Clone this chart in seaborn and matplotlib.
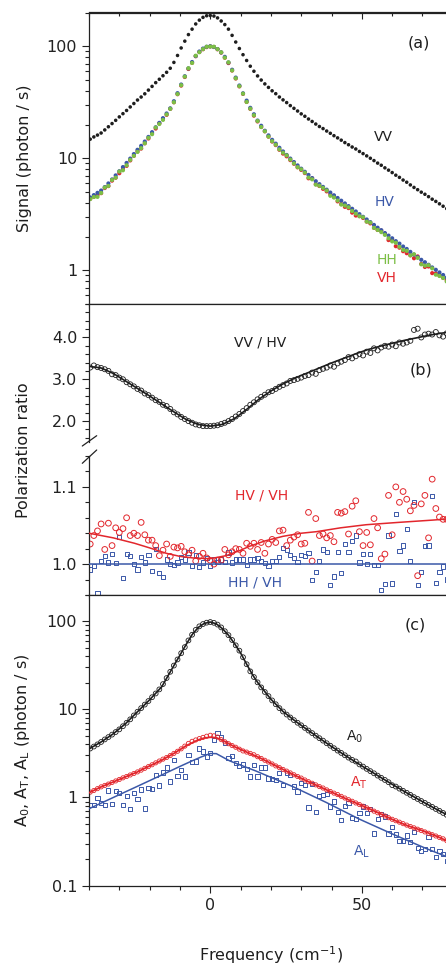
import numpy as np
import pandas as pd
import matplotlib
matplotlib.use('Agg')
from matplotlib import pyplot as plt
from matplotlib import ticker
from matplotlib.lines import Line2D
import seaborn as sns

# Frequency grid shared by every measured series (cm^-1)
freq = [-39.6, -38.4, -37.2, -36.0, -34.8, -33.6, -32.4, -31.2, -30.0, -28.8,
        -27.6, -26.4, -25.2, -24.0, -22.8, -21.6, -20.4, -19.2, -18.0, -16.8,
        -15.6, -14.4, -13.2, -12.0, -10.8, -9.6, -8.4, -7.2, -6.0, -4.8,
        -3.6, -2.4, -1.2, 0.0, 1.2, 2.4, 3.6, 4.8, 6.0, 7.2,
        8.4, 9.6, 10.8, 12.0, 13.2, 14.4, 15.6, 16.8, 18.0, 19.2,
        20.4, 21.6, 22.8, 24.0, 25.2, 26.4, 27.6, 28.8, 30.0, 31.2,
        32.4, 33.6, 34.8, 36.0, 37.2, 38.4, 39.6, 40.8, 42.0, 43.2,
        44.4, 45.6, 46.8, 48.0, 49.2, 50.4, 51.6, 52.8, 54.0, 55.2,
        56.4, 57.6, 58.8, 60.0, 61.2, 62.4, 63.6, 64.8, 66.0, 67.2,
        68.4, 69.6, 70.8, 72.0, 73.2, 74.4, 75.6, 76.8, 78.0]

# Panel (a): signals (photon / s)
vv = [14.8, 15.5, 16.1, 16.8, 17.9, 19.1, 20.4, 21.8, 23.4, 25.0,
      26.7, 28.7, 30.8, 33.1, 35.2, 37.6, 40.6, 43.8, 47.3, 50.7,
      54.5, 58.5, 63.6, 71.7, 82.7, 96.5, 111, 127, 142, 158,
      171, 181, 187, 188, 186, 179, 168, 156, 142, 125,
      109, 95.4, 84.0, 74.6, 66.3, 59.8, 54.3, 49.9, 46.1, 42.9,
      40.0, 37.7, 35.2, 33.2, 31.4, 29.5, 27.9, 26.4, 24.9, 23.7,
      22.4, 21.3, 20.2, 19.2, 18.4, 17.5, 16.7, 15.9, 15.2, 14.5,
      13.8, 13.2, 12.6, 12.1, 11.5, 11.0, 10.5, 10.0, 9.53, 9.05,
      8.66, 8.21, 7.83, 7.45, 7.06, 6.75, 6.39, 6.11, 5.78, 5.49,
      5.24, 4.98, 4.77, 4.54, 4.31, 4.12, 3.92, 3.73, 3.55]
hv = [4.47, 4.69, 4.91, 5.15, 5.53, 5.96, 6.47, 7.03, 7.66, 8.34,
      9.08, 9.93, 10.9, 11.9, 12.9, 14.1, 15.5, 17.1, 18.9, 20.7,
      22.8, 25.1, 27.9, 32.3, 38.1, 45.5, 54.0, 63.4, 72.3, 81.7,
      89.7, 95.3, 98.9, 100, 98.4, 94.4, 88.1, 80.4, 71.6, 61.7,
      52.5, 44.6, 38.0, 32.7, 28.2, 24.7, 21.7, 19.5, 17.6, 16.0,
      14.6, 13.5, 12.4, 11.5, 10.7, 9.93, 9.25, 8.63, 8.07, 7.57,
      7.10, 6.65, 6.24, 5.87, 5.55, 5.24, 4.94, 4.67, 4.42, 4.18,
      3.95, 3.74, 3.54, 3.35, 3.17, 3.00, 2.84, 2.69, 2.54, 2.40,
      2.28, 2.15, 2.04, 1.93, 1.82, 1.73, 1.63, 1.55, 1.46, 1.38,
      1.31, 1.24, 1.18, 1.12, 1.06, 1.01, 0.957, 0.908, 0.861]
vh = [4.35, 4.52, 4.70, 4.88, 5.42, 5.64, 6.31, 6.70, 7.35, 7.96,
      8.54, 9.56, 10.5, 11.5, 12.2, 13.6, 15.0, 16.6, 18.4, 20.5,
      22.4, 24.4, 27.6, 31.6, 37.3, 44.5, 53.1, 62.6, 71.0, 81.4,
      88.8, 94.0, 98.1, 99.5, 98.4, 93.9, 87.7, 78.9, 70.7, 60.7,
      51.5, 43.8, 37.5, 31.8, 27.6, 24.0, 21.3, 19.0, 17.4, 15.6,
      14.1, 13.1, 11.9, 11.0, 10.4, 9.62, 8.93, 8.30, 7.86, 7.37,
      6.62, 6.62, 5.87, 5.65, 5.33, 5.06, 4.76, 4.53, 4.12, 3.90,
      3.68, 3.59, 3.27, 3.08, 3.04, 2.93, 2.72, 2.62, 2.39, 2.29,
      2.26, 2.12, 1.86, 1.86, 1.64, 1.59, 1.48, 1.42, 1.36, 1.28,
      1.33, 1.14, 1.07, 1.08, 0.943, 0.937, 0.899, 0.855, 0.811]
hh = [4.32, 4.51, 4.52, 4.90, 5.48, 5.66, 6.40, 6.71, 7.61, 7.81,
      8.65, 9.67, 10.5, 11.4, 12.3, 13.6, 15.2, 16.4, 18.8, 20.2,
      22.0, 24.6, 27.6, 31.6, 37.4, 44.9, 53.5, 63.6, 70.9, 82.3,
      88.4, 94.2, 98.9, 99.3, 99.0, 94.2, 88.2, 79.1, 71.8, 60.8,
      51.8, 44.0, 37.7, 31.8, 27.7, 24.2, 21.5, 19.0, 17.4, 15.6,
      14.2, 13.2, 12.0, 11.2, 10.6, 9.74, 9.00, 8.33, 7.96, 7.44,
      6.72, 6.48, 5.81, 5.68, 5.44, 5.15, 4.62, 4.46, 4.19, 3.86,
      3.78, 3.65, 3.38, 3.20, 3.04, 2.97, 2.72, 2.66, 2.39, 2.29,
      2.19, 2.07, 1.93, 1.81, 1.76, 1.62, 1.52, 1.49, 1.36, 1.39,
      1.29, 1.13, 1.10, 1.11, 1.04, 0.913, 0.889, 0.853, 0.794]

# Panel (b): polarization ratios
vv_hv = [3.28, 3.33, 3.29, 3.27, 3.24, 3.20, 3.12, 3.10, 3.04, 3.00,
         2.93, 2.88, 2.83, 2.77, 2.73, 2.66, 2.62, 2.56, 2.50, 2.46,
         2.39, 2.36, 2.29, 2.21, 2.16, 2.10, 2.05, 2.00, 1.96, 1.92,
         1.90, 1.88, 1.88, 1.88, 1.89, 1.90, 1.93, 1.96, 2.00, 2.05,
         2.11, 2.17, 2.24, 2.31, 2.39, 2.45, 2.52, 2.58, 2.63, 2.69,
         2.72, 2.77, 2.82, 2.86, 2.90, 2.96, 2.98, 3.01, 3.04, 3.08,
         3.10, 3.16, 3.13, 3.22, 3.25, 3.28, 3.33, 3.30, 3.38, 3.42,
         3.46, 3.53, 3.50, 3.55, 3.60, 3.57, 3.66, 3.63, 3.74, 3.69,
         3.76, 3.80, 3.78, 3.83, 3.79, 3.88, 3.85, 3.88, 3.92, 4.18,
         4.21, 4.00, 4.07, 4.09, 4.07, 4.13, 4.05, 4.02, 4.10]
hv_vh = [1.026, 1.037, 1.043, 1.052, 1.019, 1.053, 1.024, 1.047, 1.041, 1.046,
         1.060, 1.037, 1.040, 1.037, 1.054, 1.038, 1.031, 1.031, 1.024, 1.011,
         1.018, 1.026, 1.010, 1.022, 1.021, 1.023, 1.016, 1.012, 1.018, 1.004,
         1.010, 1.014, 1.008, 1.005, 1.000, 1.005, 1.005, 1.019, 1.012, 1.016,
         1.020, 1.019, 1.014, 1.027, 1.023, 1.027, 1.019, 1.028, 1.014, 1.026,
         1.032, 1.028, 1.043, 1.044, 1.024, 1.031, 1.035, 1.038, 1.026, 1.027,
         1.067, 1.004, 1.059, 1.037, 1.039, 1.034, 1.037, 1.029, 1.067, 1.066,
         1.068, 1.039, 1.075, 1.082, 1.042, 1.024, 1.041, 1.025, 1.059, 1.047,
         1.007, 1.013, 1.089, 1.038, 1.100, 1.080, 1.094, 1.084, 1.069, 1.076,
         0.985, 1.078, 1.089, 1.034, 1.110, 1.072, 1.061, 1.058, 1.058]
hh_vh = [0.993, 0.998, 0.963, 1.004, 1.011, 1.002, 1.013, 1.001, 1.035, 0.982,
         1.013, 1.011, 1.000, 0.993, 1.009, 1.002, 1.012, 0.991, 1.020, 0.988,
         0.983, 1.006, 1.000, 0.999, 1.002, 1.009, 1.006, 1.015, 0.998, 1.012,
         0.996, 1.002, 1.008, 0.998, 1.006, 1.003, 1.006, 1.003, 1.015, 1.002,
         1.006, 1.006, 1.006, 0.999, 1.006, 1.006, 1.008, 1.004, 1.001, 0.998,
         1.004, 1.004, 1.009, 1.021, 1.018, 1.012, 1.008, 1.003, 1.012, 1.010,
         1.014, 0.979, 0.990, 1.004, 1.019, 1.016, 0.973, 0.984, 1.016, 0.989,
         1.026, 1.016, 1.030, 1.037, 1.002, 1.013, 1.000, 1.013, 0.999, 0.999,
         0.967, 0.974, 1.037, 0.975, 1.065, 1.017, 1.024, 1.045, 1.004, 1.080,
         0.973, 0.990, 1.023, 1.024, 1.088, 0.976, 0.990, 0.997, 0.980]

# Fitted curves for panel (b)
ratio_fit_freq = [-40, -36, -32, -28, -24, -20, -16, -12, -8, -4, 0, 4, 8, 12, 16,
                  20, 24, 28, 32, 36, 40, 44, 48, 52, 56, 60, 64, 68, 72, 76, 80]
vv_hv_fit = [3.31, 3.27, 3.14, 2.96, 2.78, 2.60, 2.41, 2.22, 2.04, 1.92, 1.88, 1.92,
             2.06, 2.28, 2.52, 2.72, 2.89, 3.03, 3.15, 3.27, 3.39, 3.50, 3.61, 3.71,
             3.79, 3.86, 3.93, 3.99, 4.05, 4.10, 4.14]
hv_vh_fit_freq = [-40, -32, -25, -20, -14.5, -10, -5.7, 0, 5.3, 10, 12.9, 18, 24,
                  30, 35, 43, 51.4, 62, 73.4, 80]
hv_vh_fit = [1.040, 1.034, 1.027, 1.021, 1.014, 1.010, 1.008, 1.007, 1.011, 1.018,
             1.023, 1.030, 1.036, 1.040, 1.042, 1.047, 1.051, 1.054, 1.057, 1.059]
hh_vh_fit_freq = [-40, 80]
hh_vh_fit = [1.0, 1.0]

# Panel (c): amplitudes (photon / s)
a0 = [3.59, 3.78, 4.00, 4.26, 4.55, 4.84, 5.16, 5.52, 5.92, 6.43,
      7.03, 7.69, 8.51, 9.38, 10.3, 11.3, 12.4, 13.7, 15.1, 16.8,
      19.3, 22.6, 26.6, 31.3, 36.7, 43.2, 50.7, 60.3, 70.0, 79.4,
      87.1, 92.5, 95.9, 97.5, 95.5, 91.2, 84.7, 76.7, 69.2, 61.0,
      53.1, 46.2, 38.9, 32.4, 26.9, 23.2, 20.2, 17.7, 15.7, 14.1,
      12.6, 11.4, 10.3, 9.44, 8.71, 8.07, 7.53, 7.03, 6.58, 6.15,
      5.74, 5.37, 5.02, 4.70, 4.41, 4.12, 3.86, 3.62, 3.40, 3.20,
      3.01, 2.83, 2.67, 2.56, 2.37, 2.24, 2.11, 1.99, 1.88, 1.77,
      1.67, 1.58, 1.49, 1.38, 1.33, 1.26, 1.19, 1.13, 1.07, 1.01,
      0.962, 0.912, 0.867, 0.822, 0.782, 0.741, 0.705, 0.668, 0.634]
at = [1.15, 1.20, 1.26, 1.32, 1.37, 1.42, 1.48, 1.54, 1.60, 1.67,
      1.73, 1.80, 1.87, 1.95, 2.04, 2.14, 2.24, 2.35, 2.47, 2.59,
      2.72, 2.84, 2.99, 3.16, 3.34, 3.56, 3.82, 4.10, 4.33, 4.49,
      4.65, 4.80, 4.95, 5.07, 5.00, 4.84, 4.53, 4.28, 4.07, 3.88,
      3.71, 3.53, 3.37, 3.27, 3.16, 3.05, 2.90, 2.77, 2.64, 2.52,
      2.40, 2.28, 2.18, 2.08, 1.99, 1.90, 1.81, 1.73, 1.66, 1.58,
      1.51, 1.45, 1.39, 1.33, 1.28, 1.22, 1.17, 1.12, 1.08, 1.03,
      0.986, 0.944, 0.906, 0.867, 0.832, 0.796, 0.764, 0.731, 0.700, 0.671,
      0.643, 0.617, 0.590, 0.566, 0.545, 0.525, 0.505, 0.486, 0.469, 0.453,
      0.437, 0.422, 0.407, 0.393, 0.379, 0.366, 0.352, 0.340, 0.324]
al = [0.82, 0.82, 0.99, 0.86, 0.82, 1.20, 0.84, 1.19, 1.12, 0.82,
      1.03, 0.74, 1.13, 0.97, 1.23, 0.75, 1.28, 1.24, 1.79, 1.37,
      1.92, 2.19, 1.52, 2.67, 1.76, 2.06, 1.73, 3.01, 2.53, 2.56,
      3.59, 3.32, 2.91, 3.18, 4.49, 5.35, 4.82, 4.15, 2.79, 2.96,
      2.45, 2.28, 2.37, 2.11, 1.73, 2.34, 1.73, 2.19, 2.19, 1.64,
      1.61, 1.58, 1.88, 1.40, 1.88, 1.79, 1.33, 1.17, 1.45, 1.38,
      0.77, 1.41, 0.69, 1.03, 1.06, 1.09, 0.79, 0.90, 0.68, 0.56,
      0.80, 0.87, 0.59, 0.57, 0.67, 0.79, 0.66, 0.74, 0.39, 0.57,
      0.65, 0.61, 0.39, 0.46, 0.38, 0.32, 0.32, 0.37, 0.31, 0.41,
      0.27, 0.25, 0.26, 0.36, 0.26, 0.21, 0.25, 0.23, 0.19]

# Fitted curves for panel (c)
a0_fit_freq = [-40, -36, -32, -28, -24, -20, -16, -12, -10, -8, -6, -4, -2, 0, 2, 4,
               6, 8, 10, 12, 14, 16, 20, 24, 28, 32, 36, 40, 45, 50, 55, 60, 65, 70,
               75, 80]
a0_fit = [3.55, 4.26, 5.27, 6.84, 9.38, 12.8, 18.0, 31.3, 41.0, 54.0, 70.0, 84.5,
          94.0, 97.5, 93.0, 82.0, 69.2, 55.5, 43.5, 32.4, 24.4, 19.3, 13.0, 9.44,
          7.36, 5.87, 4.70, 3.78, 2.92, 2.28, 1.79, 1.41, 1.12, 0.897, 0.723, 0.59]
at_fit_freq = [-40, -36, -32, -28, -24, -20, -16, -12, -8, -4, -2, 0, 2, 4, 8, 12,
               16, 20, 24, 28, 32, 36, 40, 45, 50, 55, 60, 65, 70, 75, 80]
at_fit = [1.13, 1.32, 1.50, 1.71, 1.95, 2.28, 2.65, 3.16, 3.85, 4.50, 4.72, 4.82,
          4.76, 4.45, 3.76, 3.27, 2.85, 2.44, 2.08, 1.78, 1.53, 1.33, 1.15, 0.96,
          0.81, 0.68, 0.565, 0.48, 0.42, 0.36, 0.30]
al_fit_freq = [-40, -32, -24, -16, -10, -6, -3, 0, 2, 6.4, 15, 27.2, 38.3, 49.2,
               60.2, 71.2, 80]
al_fit = [0.745, 1.00, 1.34, 1.80, 2.25, 2.60, 2.88, 3.15, 3.14, 2.60, 2.00, 1.33,
          0.877, 0.568, 0.384, 0.264, 0.20]

# Colours
black = '#1e1e1e'
red = '#e2262c'
blue = '#3b58a8'
green = '#7cbf45'

# Data frames for seaborn
df_a = pd.DataFrame({'freq': freq, 'VV': vv, 'HV': hv, 'VH': vh, 'HH': hh})
df_b = pd.DataFrame({'freq': freq, 'VV/HV': vv_hv, 'HV/VH': hv_vh, 'HH/VH': hh_vh})
df_c = pd.DataFrame({'freq': freq, 'A0': a0, 'AT': at, 'AL': al})

sns.set_style('ticks')
plt.rcParams['font.family'] = ['DejaVu Sans']
plt.rcParams['mathtext.fontset'] = 'dejavusans'
plt.rcParams['axes.linewidth'] = 0.9
plt.rcParams['axes.edgecolor'] = '#222222'

W, H = 446, 964
fig = plt.figure(figsize=(W / 100, H / 100), dpi=100)
X_LEFT, X_RIGHT = 89, 452.8


def add_panel(top, bottom):
    return fig.add_axes([X_LEFT / W, 1 - bottom / H, (X_RIGHT - X_LEFT) / W, (bottom - top) / H])


def style_axis(ax, labels=False):
    ax.set_xlim(-40, 80)
    ax.xaxis.set_major_locator(ticker.MultipleLocator(50))
    ax.xaxis.set_minor_locator(ticker.MultipleLocator(10))
    ax.xaxis.set_major_formatter(ticker.FormatStrFormatter('%g'))
    ax.tick_params(which='both', direction='out', width=0.8, color='#222222',
                   labelsize=11.5, labelcolor='#222222', right=False, top=False,
                   labelbottom=labels)
    ax.tick_params(which='major', length=5)
    ax.tick_params(which='minor', length=2.8)
    ax.spines['right'].set_visible(False)
    ax.set_xlabel('')
    ax.set_ylabel('')


def log_axis(ax, lo, hi):
    ax.set_yscale('log')
    ax.set_ylim(lo, hi)
    ax.yaxis.set_major_locator(ticker.LogLocator(base=10, numticks=10))
    ax.yaxis.set_minor_locator(ticker.LogLocator(base=10, subs=np.arange(2, 10), numticks=20))
    ax.yaxis.set_major_formatter(ticker.FuncFormatter(lambda v, p: '%g' % v))
    ax.yaxis.set_minor_formatter(ticker.NullFormatter())


def dots(ax, data, key, color, s, marker='o', filled=True, lw=0.7, z=2):
    if filled:
        sns.scatterplot(data=data, x='freq', y=key, ax=ax, color=color, s=s,
                        marker=marker, edgecolor='none', linewidth=0, zorder=z)
    else:
        sns.scatterplot(data=data, x='freq', y=key, ax=ax, s=s, marker=marker,
                        facecolors='none', edgecolor=color, linewidth=lw, zorder=z)


def fit_line(ax, x, y, color, lw=1.1):
    sns.lineplot(x=x, y=y, ax=ax, color=color, lw=lw, estimator=None, sort=False, zorder=3)


def label(x, y, text, color=black, size=10, **kw):
    fig.text(x / W, 1 - y / H, text, color=color, fontsize=size, ha='center', va='center', **kw)


# Panel (a)
ax_a = add_panel(12.5, 304)
dots(ax_a, df_a, 'VV', black, 6.5)
dots(ax_a, df_a, 'VH', red, 9)
dots(ax_a, df_a, 'HV', blue, 9)
dots(ax_a, df_a, 'HH', green, 9)
log_axis(ax_a, 0.5, 200)
style_axis(ax_a)
top_a = ax_a.secondary_xaxis('top')
top_a.xaxis.set_major_locator(ticker.MultipleLocator(50))
top_a.xaxis.set_minor_locator(ticker.MultipleLocator(10))
top_a.tick_params(which='both', direction='in', labeltop=False, width=0.8, color='#222222')
top_a.tick_params(which='major', length=5)
top_a.tick_params(which='minor', length=2.8)

# Panel (b), upper part of the broken axis
ax_bu = add_panel(304, 442)
dots(ax_bu, df_b, 'VV/HV', black, 13, filled=False, lw=0.6)
fit_line(ax_bu, ratio_fit_freq, vv_hv_fit, black, lw=1.2)
ax_bu.set_ylim(1.5, 4.8)
ax_bu.yaxis.set_major_locator(ticker.MultipleLocator(1.0))
ax_bu.yaxis.set_minor_locator(ticker.MultipleLocator(0.2))
ax_bu.yaxis.set_major_formatter(ticker.FormatStrFormatter('%.1f'))
style_axis(ax_bu)
ax_bu.spines['bottom'].set_visible(False)
ax_bu.tick_params(axis='x', which='both', bottom=False)

# Panel (b), lower part of the broken axis
ax_bl = add_panel(456, 595)
dots(ax_bl, df_b, 'HH/VH', blue, 9, marker='s', filled=False, lw=0.7)
dots(ax_bl, df_b, 'HV/VH', red, 17, filled=False, lw=0.7)
fit_line(ax_bl, hh_vh_fit_freq, hh_vh_fit, blue)
fit_line(ax_bl, hv_vh_fit_freq, hv_vh_fit, red)
ax_bl.set_ylim(0.96, 1.14)
ax_bl.yaxis.set_major_locator(ticker.MultipleLocator(0.1))
ax_bl.yaxis.set_minor_locator(ticker.MultipleLocator(0.02))
ax_bl.yaxis.set_major_formatter(ticker.FormatStrFormatter('%.1f'))
style_axis(ax_bl)
ax_bl.spines['top'].set_visible(False)

# Break marks on the left spine
for y0, y1 in [(446, 435.7), (463.3, 450)]:
    fig.add_artist(Line2D([82.3 / W, 96.7 / W], [1 - y0 / H, 1 - y1 / H],
                          transform=fig.transFigure, color='#222222', lw=0.9))

# Panel (c)
ax_c = add_panel(594.5, 885.7)
dots(ax_c, df_c, 'AL', blue, 9, marker='s', filled=False, lw=0.7)
dots(ax_c, df_c, 'AT', red, 9, filled=False, lw=0.6)
dots(ax_c, df_c, 'A0', black, 12, filled=False, lw=0.6)
fit_line(ax_c, al_fit_freq, al_fit, blue)
fit_line(ax_c, at_fit_freq, at_fit, red, lw=1.3)
fit_line(ax_c, a0_fit_freq, a0_fit, black, lw=1.2)
log_axis(ax_c, 0.1, 200)
style_axis(ax_c, labels=True)

# Axis titles
label(25, 158, 'Signal (photon / s)', size=11.5, rotation=90)
label(24, 450, 'Polarization ratio', size=11.5, rotation=90)
label(23, 740, r'A$_0$, A$_\mathrm{T}$, A$_\mathrm{L}$ (photon / s)', size=11.5, rotation=90)
label(271, 955, r'Frequency (cm$^{-1}$)', size=11.5)

# Panel annotations
label(419, 43, '(a)', size=11.5)
label(383, 137, 'VV')
label(385, 202, 'HV', color=blue)
label(387, 260, 'HH', color=green)
label(387, 278, 'VH', color=red)
label(260, 342, 'VV / HV')
label(421, 370, '(b)', size=11.5)
label(262, 496, 'HV / VH', color=red)
label(255, 582, 'HH / VH', color=blue)
label(415, 625, '(c)', size=11.5)
label(355, 737, r'A$_0$')
label(359, 783, r'A$_\mathrm{T}$', color=red)
label(362, 852, r'A$_\mathrm{L}$', color=blue)

fig.savefig('out.png', dpi=100)
